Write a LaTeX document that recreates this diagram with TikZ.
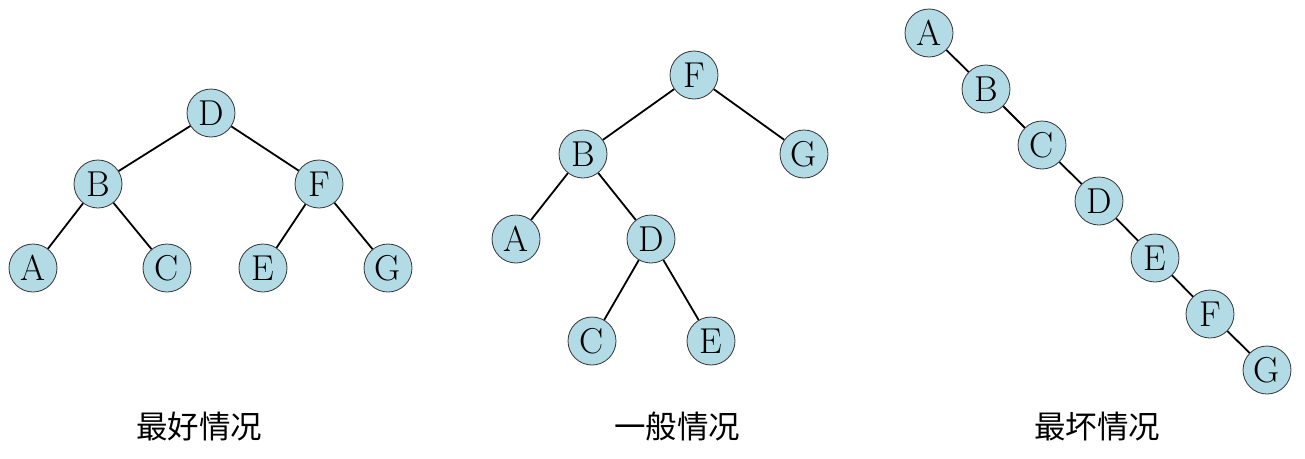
\documentclass[tikz,border=0pt]{standalone}
\usepackage{fontspec}
\newfontfamily\cjk{Noto Sans CJK SC}
\definecolor{nodeblue}{RGB}{178,219,230}
\begin{document}
\begin{tikzpicture}[x=1pt,y=-1pt,
  tn/.style={circle,draw=black!80,line width=0.8pt,fill=nodeblue,minimum size=48pt,inner sep=0pt,font=\fontsize{36}{36}\selectfont},
  ed/.style={line width=1.8pt},
  captext/.style={font=\cjk\fontsize{31.5}{31.5}\selectfont}]
\useasboundingbox (0,0) rectangle (1305,458);
% tree 1
\node[tn] (D1) at (211,113) {D};
\node[tn] (B1) at (98,184) {B};
\node[tn] (F1) at (319,184) {F};
\node[tn] (A1) at (33,268) {A};
\node[tn] (C1) at (167,268) {C};
\node[tn] (E1) at (263,268) {E};
\node[tn] (G1) at (388,268) {G};
\draw[ed] (D1)--(B1); \draw[ed] (D1)--(F1);
\draw[ed] (B1)--(A1); \draw[ed] (B1)--(C1);
\draw[ed] (F1)--(E1); \draw[ed] (F1)--(G1);
\node[captext] (L1) at (199,427) {最好情况};
% tree 2
\node[tn] (F2) at (694,75) {F};
\node[tn] (B2) at (583,154) {B};
\node[tn] (G2) at (804,154) {G};
\node[tn] (A2) at (516,239) {A};
\node[tn] (D2) at (651,239) {D};
\node[tn] (C2) at (592,341) {C};
\node[tn] (E2) at (711,341) {E};
\draw[ed] (F2)--(B2); \draw[ed] (F2)--(G2);
\draw[ed] (B2)--(A2); \draw[ed] (B2)--(D2);
\draw[ed] (D2)--(C2); \draw[ed] (D2)--(E2);
\node[captext] (L2) at (677,427) {一般情况};
% tree 3
\node[tn] (A3) at (929,33) {A};
\node[tn] (B3) at (986,89) {B};
\node[tn] (C3) at (1042,145) {C};
\node[tn] (D3) at (1099,201) {D};
\node[tn] (E3) at (1155,258) {E};
\node[tn] (F3) at (1210,314) {F};
\node[tn] (G3) at (1267,370) {G};
\draw[ed] (A3)--(B3); \draw[ed] (B3)--(C3); \draw[ed] (C3)--(D3);
\draw[ed] (D3)--(E3); \draw[ed] (E3)--(F3); \draw[ed] (F3)--(G3);
\node[captext] (L3) at (1097,427) {最坏情况};
\end{tikzpicture}
\end{document}
